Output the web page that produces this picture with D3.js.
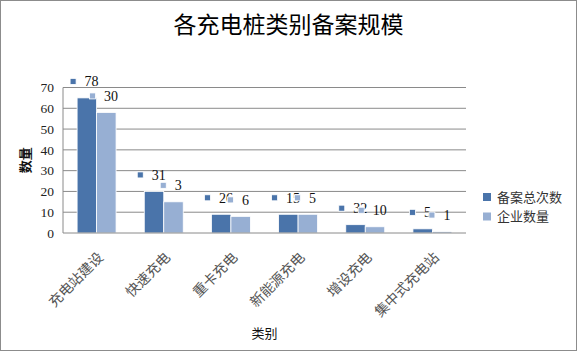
<!DOCTYPE html>
<html lang="en">
<head>
    <meta charset="UTF-8">
    <title>各充电桩类别备案规模</title>
    <script src="https://d3js.org/d3.v7.min.js"></script>
    <style>
        body { margin: 0; background: #fff; }
    </style>
</head>
<body>
    <div id="chart"></div>
    <script>
        // Categories and series
        var categories = ["充电站建设", "快速充电", "重卡充电", "新能源充电", "增设充电", "集中式充电站"];
        var seriesNames = ["备案总次数", "企业数量"];
        var totalValues = [65, 20, 9, 9, 4, 2];
        var companyValues = [58, 15, 8, 9, 3, 0.7];
        // data labels as shown on the chart (they do not match the bar heights)
        var totalLabels = ["78", "31", "26", "15", "32", "5"];
        var companyLabels = ["30", "3", "6", "5", "10", "1"];
        var yTicks = [0, 10, 20, 30, 40, 50, 60, 70];

        var colors = ["#4a74aa", "#97afd3"];
        var W = 577, H = 351;
        var margin = {top: 87.5, right: 111, bottom: 118, left: 63};

        var svg = d3.select("#chart").append("svg")
            .attr("width", W).attr("height", H)
            .style("font-family", "'Liberation Serif', serif");

        // outer border
        svg.append("rect")
            .attr("x", 0.5).attr("y", 0.5)
            .attr("width", W - 1).attr("height", H - 1)
            .attr("fill", "#fff").attr("stroke", "#8c8c8c");

        var x = d3.scaleBand().domain(categories)
            .range([margin.left, W - margin.right])
            .paddingInner(0.42).paddingOuter(0.21);
        var xs = d3.scaleBand().domain(seriesNames).range([0, x.bandwidth()]);
        var y = d3.scaleLinear().domain([0, 70]).range([H - margin.bottom, margin.top]);

        // gridlines
        svg.append("g").selectAll("line")
            .data(yTicks.slice(1))
            .enter().append("line")
            .attr("x1", margin.left).attr("x2", W - margin.right)
            .attr("y1", d => y(d)).attr("y2", d => y(d))
            .attr("stroke", "#8a8a8a").attr("stroke-width", 1);

        // y axis
        var yAxis = svg.append("g")
            .attr("transform", "translate(" + margin.left + ",0)")
            .call(d3.axisLeft(y).tickValues(yTicks).tickSize(0).tickPadding(9));
        yAxis.select(".domain").remove();
        yAxis.selectAll("text")
            .style("font-family", "'Liberation Serif', serif")
            .style("font-size", "13.5px").attr("fill", "#222");

        // bars
        var rows = categories.map((c, i) => ({cat: c, vals: [totalValues[i], companyValues[i]], labels: [totalLabels[i], companyLabels[i]]}));
        var groups = svg.append("g").selectAll("g")
            .data(rows).enter().append("g")
            .attr("transform", d => "translate(" + x(d.cat) + ",0)");
        groups.selectAll("rect")
            .data(d => d.vals.map((v, j) => ({s: seriesNames[j], v: v, j: j})))
            .enter().append("rect")
            .attr("x", d => xs(d.s))
            .attr("width", xs.bandwidth())
            .attr("y", d => y(d.v))
            .attr("height", d => y(0) - y(d.v))
            .attr("fill", d => colors[d.j])
            .attr("stroke", "#fff").attr("stroke-width", 0.8);

        // axis lines
        svg.append("line")
            .attr("x1", margin.left).attr("x2", margin.left)
            .attr("y1", y(70)).attr("y2", y(0))
            .attr("stroke", "#8a8a8a");
        svg.append("line")
            .attr("x1", margin.left).attr("x2", W - margin.right)
            .attr("y1", y(0)).attr("y2", y(0))
            .attr("stroke", "#8a8a8a");

        // data labels with legend key
        var labelLayer = svg.append("g");
        [0, 1].forEach(function(j) {
            rows.forEach(function(d) {
                var cx = x(d.cat) + xs(seriesNames[j]) + xs.bandwidth() / 2 - 2.5;
                var cy = y(d.vals[j]) - 16.5;
                var g = labelLayer.append("g");
                var t = g.append("text")
                    .attr("y", cy + 5)
                    .style("font-size", "14px").attr("fill", "#111")
                    .text(d.labels[j]);
                var tw = t.node().getComputedTextLength();
                var total = 6 + 8.5 + tw;
                var left = cx - total / 2;
                g.insert("rect", "text")
                    .attr("x", left).attr("y", cy - 3)
                    .attr("width", 6).attr("height", 6)
                    .attr("fill", colors[j]).attr("stroke", "#fff").attr("stroke-width", 0.8);
                t.attr("x", left + 14.5);
            });
        });

        // category labels
        svg.append("g").selectAll("text")
            .data(categories).enter().append("text")
            .attr("transform", d => "translate(" + (x(d) + x.bandwidth() / 2 + 4) + "," + (y(0) + 22) + ") rotate(-45)")
            .attr("text-anchor", "end")
            .attr("dy", "0.35em")
            .style("font-family", "'Noto Sans CJK SC', sans-serif")
            .style("font-size", "14px").attr("fill", "#555")
            .text(d => d);

        // titles
        svg.append("text")
            .attr("x", W / 2).attr("y", 33)
            .attr("text-anchor", "middle")
            .style("font-family", "'Noto Sans CJK SC', sans-serif")
            .style("font-size", "23px").attr("fill", "#000")
            .text("各充电桩类别备案规模");
        svg.append("text")
            .attr("transform", "translate(30," + ((y(0) + y(70)) / 2) + ") rotate(-90)")
            .attr("text-anchor", "middle")
            .style("font-family", "'Noto Sans CJK SC', sans-serif")
            .style("font-size", "13px").style("font-weight", "bold").attr("fill", "#111")
            .text("数量");
        svg.append("text")
            .attr("x", (margin.left + W - margin.right) / 2).attr("y", 338)
            .attr("text-anchor", "middle")
            .style("font-family", "'Noto Sans CJK SC', sans-serif")
            .style("font-size", "13px").attr("fill", "#111")
            .text("类别");

        // legend
        var legend = svg.append("g").selectAll("g")
            .data(seriesNames).enter().append("g")
            .attr("transform", (d, i) => "translate(483," + (197 + i * 19.5) + ")");
        legend.append("rect")
            .attr("x", 0).attr("y", -4).attr("width", 8).attr("height", 8)
            .attr("fill", (d, i) => colors[i]);
        legend.append("text")
            .attr("x", 14).attr("y", 0).attr("dy", "0.35em")
            .style("font-family", "'Noto Sans CJK SC', sans-serif")
            .style("font-size", "13px").attr("fill", "#333")
            .text(d => d);
    </script>
</body>
</html>
